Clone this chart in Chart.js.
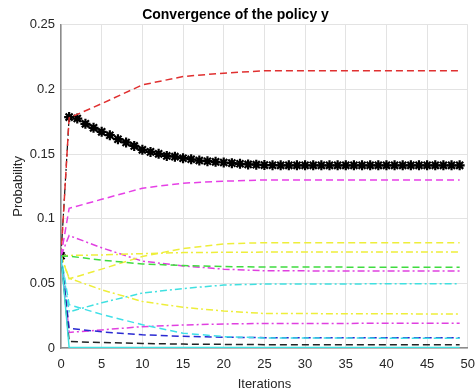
<!DOCTYPE html>
<html>
<head>
<meta charset="utf-8">
<script src="https://cdn.jsdelivr.net/npm/chart.js@4.4.1/dist/chart.umd.min.js"></script>
<style>
    body { margin: 0; background: #ffffff; }
    #policyChart { display: block; }
</style>
</head>
<body>
<canvas id="policyChart" width="475" height="392"></canvas>
<script>
const lineIters = [0, 1, 5, 10, 15, 20, 25, 49];

const redDashed = [0.0714, 0.178, 0.189, 0.2035, 0.21, 0.2126, 0.2144, 0.2144];
const magentaDashed = [0.0714, 0.108, 0.115, 0.1236, 0.1275, 0.129, 0.13, 0.13];
const magentaDashDotHigh = [0.0714, 0.087, 0.0775, 0.0672, 0.0635, 0.061, 0.0597, 0.0595];
const yellowDashed = [0.0714, 0.0535, 0.061, 0.0708, 0.077, 0.0805, 0.0815, 0.0815];
const yellowDashDotHigh = [0.0714, 0.0716, 0.072, 0.073, 0.0738, 0.074, 0.0742, 0.0742];
const greenDashed = [0.0714, 0.071, 0.068, 0.065, 0.0638, 0.063, 0.0626, 0.0625];
const cyanDashDot = [0.0714, 0.028, 0.035, 0.0425, 0.046, 0.0487, 0.0495, 0.0497];
const yellowDashDotLow = [0.0714, 0.054, 0.045, 0.036, 0.0315, 0.0286, 0.0267, 0.0263];
const magentaDashDotLow = [0.0714, 0.012, 0.014, 0.0165, 0.0178, 0.0186, 0.019, 0.0191];
const blueDashed = [0.0714, 0.0152, 0.0125, 0.0102, 0.009, 0.0083, 0.008, 0.008];
const cyanDashed = [0.0714, 0.0335, 0.026, 0.018, 0.0115, 0.0088, 0.0078, 0.0075];
const blackDashed = [0.0714, 0.005, 0.0042, 0.0035, 0.003, 0.0028, 0.0026, 0.0026];
const cyanSolid = [0.0714, 0.0004, 0.0004, 0.0004, 0.0004, 0.0004, 0.0004, 0.0004];

// policy y, one value per iteration 0..49
const starIters = Array.from({ length: 50 }, (_, i) => i);
const starValues = [
    0.0714, 0.1786, 0.1775, 0.1734, 0.1703, 0.1672, 0.1646, 0.1615, 0.159, 0.1563,
    0.1533, 0.1517, 0.1502, 0.1486, 0.148, 0.1468, 0.146, 0.145, 0.1445, 0.144,
    0.1435, 0.143, 0.1425, 0.142, 0.1418, 0.1415, 0.1414, 0.1413, 0.1413, 0.1413,
    0.1413, 0.1413, 0.1413, 0.1413, 0.1413, 0.1413, 0.1413, 0.1413, 0.1413, 0.1413,
    0.1413, 0.1413, 0.1413, 0.1413, 0.1413, 0.1413, 0.1413, 0.1413, 0.1413, 0.1413,
];

const xTicks = [0, 5, 10, 15, 20, 25, 30, 35, 40, 45, 50];
const yTicks = [0, 0.05, 0.1, 0.15, 0.2, 0.25];

const DASH = [7, 4];
const DASH_DOT = [7, 3, 2, 3];

function toPoints(xs, ys) {
    return ys.map(function (y, i) { return { x: xs[i], y: y }; });
}

function lineSet(values, color, dash) {
    return {
        data: toPoints(lineIters, values),
        borderColor: color,
        borderWidth: 1.5,
        borderDash: dash,
        pointRadius: 0,
        fill: false,
        tension: 0,
    };
}

document.addEventListener("DOMContentLoaded", function () {
    var ctx = document.getElementById("policyChart").getContext("2d");
    var fontFamily = "'Liberation Sans', Arial, Helvetica, sans-serif";

    new Chart(ctx, {
        type: "line",
        data: {
            datasets: [
                lineSet(cyanSolid, "#3fe0e0", []),
                lineSet(blackDashed, "#222222", DASH),
                lineSet(cyanDashed, "#40e0e8", DASH),
                lineSet(blueDashed, "#2a2ad2", DASH),
                lineSet(magentaDashDotLow, "#e040e0", DASH_DOT),
                lineSet(yellowDashDotLow, "#eeee3a", DASH_DOT),
                lineSet(cyanDashDot, "#40e0e0", DASH_DOT),
                lineSet(greenDashed, "#3fdc3f", DASH),
                lineSet(yellowDashDotHigh, "#eeee3a", DASH_DOT),
                lineSet(yellowDashed, "#eeee3a", DASH),
                lineSet(magentaDashDotHigh, "#e040e0", DASH_DOT),
                lineSet(magentaDashed, "#e640e6", DASH),
                lineSet(redDashed, "#e03030", DASH),
                {
                    data: toPoints(starIters, starValues),
                    borderColor: "#111111",
                    borderWidth: 1.2,
                    borderDash: DASH_DOT,
                    pointStyle: "star",
                    pointRadius: 5,
                    pointBorderWidth: 2.2,
                    pointBorderColor: "#000000",
                    pointBackgroundColor: "#000000",
                    fill: false,
                    tension: 0,
                },
            ],
        },
        options: {
            responsive: false,
            animation: false,
            events: [],
            layout: {
                padding: { left: 0, right: 4, top: 0, bottom: 0 },
            },
            plugins: {
                legend: { display: false },
                tooltip: { enabled: false },
                title: {
                    display: true,
                    text: "Convergence of the policy y",
                    color: "#000000",
                    font: { family: fontFamily, size: 14, weight: "bold" },
                    padding: { top: 7, bottom: 1 },
                },
            },
            scales: {
                x: {
                    type: "linear",
                    min: 0,
                    max: 50,
                    afterBuildTicks: function (scale) {
                        scale.ticks = xTicks.map(function (v) { return { value: v }; });
                    },
                    afterFit: function (scale) {
                        scale.height = 44;
                        scale.paddingRight = 0; // let the "50" run into the edge like the original
                    },
                    ticks: {
                        color: "#262626",
                        font: { family: fontFamily, size: 13 },
                        padding: 9,
                        maxRotation: 0,
                    },
                    grid: { color: "#e3e3e3", drawTicks: false },
                    border: { color: "#8c8c8c", width: 1.5 },
                    title: {
                        display: true,
                        text: "Iterations",
                        color: "#262626",
                        font: { family: fontFamily, size: 13 },
                        padding: { top: 2, bottom: 0 },
                    },
                },
                y: {
                    min: 0,
                    max: 0.25,
                    afterBuildTicks: function (scale) {
                        scale.ticks = yTicks.map(function (v) { return { value: v }; });
                    },
                    afterFit: function (scale) {
                        scale.width = 61;
                    },
                    ticks: {
                        color: "#262626",
                        font: { family: fontFamily, size: 13 },
                        padding: 6,
                        callback: function (value) {
                            return String(+value.toFixed(2));
                        },
                    },
                    grid: { color: "#e3e3e3", drawTicks: false },
                    border: { color: "#8c8c8c", width: 1.5 },
                    title: {
                        display: true,
                        text: "Probability",
                        color: "#262626",
                        font: { family: fontFamily, size: 13 },
                        padding: { top: 11, bottom: 0 },
                    },
                },
            },
        },
    });
});
</script>
</body>
</html>
